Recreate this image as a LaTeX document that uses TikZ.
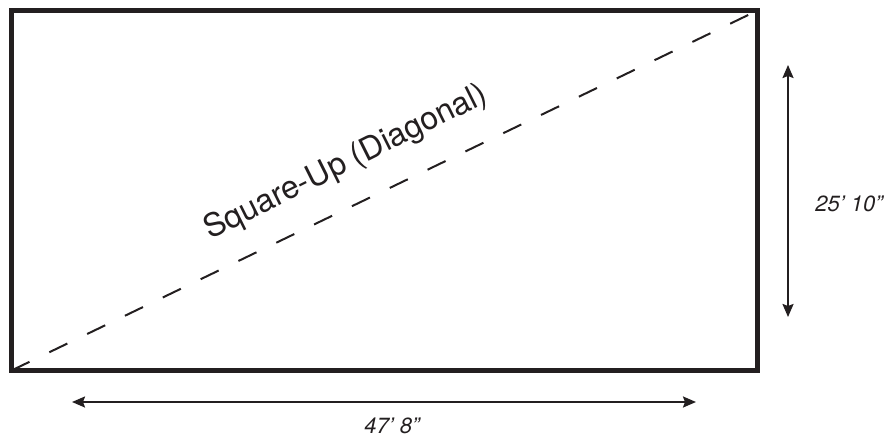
\documentclass[tikz,border=0pt]{standalone}
\usepackage{fontspec}
\setmainfont{TeX Gyre Heros}
\usetikzlibrary{arrows.meta}
\definecolor{ink}{RGB}{35,31,32}
\begin{document}
\begin{tikzpicture}[
  x=1pt,y=-1pt,
  slab/.style={draw=ink, line width=5pt, line join=miter},
  diag/.style={draw=ink, line width=2pt, dash pattern=on 20pt off 22pt},
  dim/.style={{Stealth[length=13pt,width=11pt,inset=2pt]}-{Stealth[length=13pt,width=11pt,inset=2pt]},
              draw=ink, line width=2pt},
  dimlabel/.style={font=\fontsize{22}{26}\selectfont\itshape, text=ink, inner sep=0pt},
  diaglabel/.style={font=\fontsize{32}{38}\selectfont, text=ink, inner sep=0pt}
]
  \useasboundingbox (0,0) rectangle (890,438);

  \coordinate (sw) at (11.5,370.5);
  \coordinate (ne) at (757.5,10.5);
  \draw[slab] (sw) rectangle (ne);
  \draw[diag] (sw) -- (ne);
  \node[diaglabel,rotate=26.5] (square) at (346,163) {Square-Up (Diagonal)};

  \coordinate (htop) at (788,65);
  \coordinate (hbot) at (788,317);
  \draw[dim] (htop) -- (hbot);
  \node[dimlabel] (height) at (849,204) {25’ 10”};

  \coordinate (wleft) at (72,402);
  \coordinate (wright) at (696,402);
  \draw[dim] (wleft) -- (wright);
  \node[dimlabel] (width) at (392,426) {47’ 8”};
\end{tikzpicture}
\end{document}
